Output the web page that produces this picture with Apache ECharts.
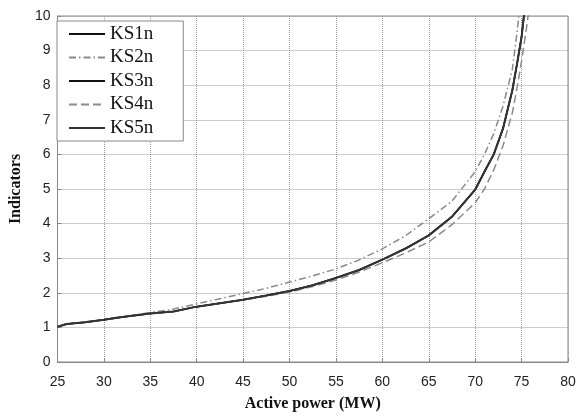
<!DOCTYPE html>
<html>
<head>
<meta charset="utf-8">
<script src="https://cdn.jsdelivr.net/npm/echarts@6/dist/echarts.min.js"></script>
<style>
  html, body { margin: 0; padding: 0; background: #fff; }
  #chart { width: 583px; height: 417px; }
</style>
</head>
<body>
<div id="chart"></div>
<script>
// active power (MW) sample points, shared by all curves
const powerMW = [25, 26, 28, 30, 32, 35, 37.5, 40, 42.5, 45, 47.5, 50, 52.5, 55, 57.5, 60,
  62.5, 65, 67.5, 70, 71, 72, 73, 74, 74.5, 75, 75.5, 76];

// indicator values
const ks1n = [1.02, 1.1, 1.15, 1.22, 1.3, 1.4, 1.46, 1.6, 1.7, 1.8, 1.92, 2.05, 2.22, 2.43, 2.66, 2.96,
  3.28, 3.66, 4.2, 4.98, 5.5, 6.0, 6.75, 7.85, 8.6, 9.4, 10.6, 12];
const ks2n = [1.02, 1.1, 1.16, 1.23, 1.31, 1.43, 1.53, 1.68, 1.83, 1.98, 2.13, 2.31, 2.49, 2.69, 2.95, 3.27,
  3.65, 4.14, 4.65, 5.5, 6.0, 6.6, 7.4, 8.45, 9.5, 10.7, 12, 14];
const ks3n = [1.02, 1.1, 1.15, 1.22, 1.3, 1.4, 1.46, 1.6, 1.7, 1.8, 1.92, 2.05, 2.22, 2.43, 2.66, 2.96,
  3.28, 3.66, 4.2, 4.98, 5.5, 6.0, 6.75, 7.85, 8.6, 9.4, 10.6, 12];
const ks4n = [1.02, 1.1, 1.15, 1.22, 1.3, 1.4, 1.46, 1.6, 1.7, 1.79, 1.9, 2.02, 2.18, 2.37, 2.6, 2.87,
  3.15, 3.47, 3.97, 4.6, 5.0, 5.55, 6.25, 7.2, 7.9, 8.7, 9.6, 10.6];
const ks5n = [1.02, 1.1, 1.15, 1.22, 1.3, 1.4, 1.46, 1.6, 1.7, 1.8, 1.92, 2.05, 2.22, 2.43, 2.66, 2.96,
  3.28, 3.66, 4.2, 4.98, 5.5, 6.0, 6.75, 7.85, 8.6, 9.4, 10.6, 12];

const serif = "'Liberation Serif', 'DejaVu Serif', serif";

function pairs(values) {
  return powerMW.map((x, i) => [x, values[i]]);
}

function makeSeries(name, values, color, width, dash) {
  return {
    name: name,
    type: "line",
    data: pairs(values),
    symbol: "none",
    showSymbol: false,
    clip: true,
    silent: true,
    color: color,
    lineStyle: { color: color, width: width, type: dash },
  };
}

const chart = echarts.init(document.getElementById("chart"));

chart.setOption({
  animation: false,
  backgroundColor: "#fff",
  grid: {
    left: 54,
    right: 15,
    top: 16,
    bottom: 55,
    show: true,
    borderColor: "#888",
    borderWidth: 1,
  },
  legend: {
    orient: "vertical",
    left: 57,
    top: 21,
    backgroundColor: "#fff",
    borderColor: "#888",
    borderWidth: 1,
    borderRadius: 0,
    padding: [3, 30, 3, 11],
    itemGap: 3.5,
    itemWidth: 36,
    itemHeight: 12,
    itemStyle: { opacity: 0 },
    textStyle: { fontFamily: serif, fontSize: 19, color: "#111", lineHeight: 20 },
    data: ["KS1n", "KS2n", "KS3n", "KS4n", "KS5n"],
  },
  xAxis: {
    type: "value",
    min: 25,
    max: 80,
    interval: 5,
    name: "Active power (MW)",
    nameLocation: "middle",
    nameGap: 34,
    nameTextStyle: { fontFamily: serif, fontSize: 16, fontWeight: "bold", color: "#111" },
    axisLine: { show: true, lineStyle: { color: "#888" } },
    axisTick: { show: true, inside: true, length: 4, lineStyle: { color: "#888" } },
    axisLabel: { fontFamily: "'Liberation Sans', sans-serif", fontSize: 14, color: "#222", margin: 13 },
    splitLine: { show: true, lineStyle: { color: "#999", type: "dotted", width: 1 } },
  },
  yAxis: {
    type: "value",
    min: 0,
    max: 10,
    interval: 1,
    name: "Indicators",
    nameLocation: "middle",
    nameGap: 30,
    nameTextStyle: { fontFamily: serif, fontSize: 16, fontWeight: "bold", color: "#111" },
    axisLine: { show: true, lineStyle: { color: "#888" } },
    axisTick: { show: true, inside: true, length: 4, lineStyle: { color: "#888" } },
    axisLabel: { fontFamily: "'Liberation Sans', sans-serif", fontSize: 14, color: "#222", margin: 7 },
    splitLine: { show: true, lineStyle: { color: "#999", type: "dotted", width: 1 } },
  },
  series: [
    makeSeries("KS1n", ks1n, "#111", 1.5, "solid"),
    makeSeries("KS2n", ks2n, "#8a8a8a", 1.5, [7, 3, 1.5, 3]),
    makeSeries("KS3n", ks3n, "#111", 1.5, "solid"),
    makeSeries("KS4n", ks4n, "#8a8a8a", 1.5, [8, 4]),
    makeSeries("KS5n", ks5n, "#333", 2, "solid"),
  ],
});
</script>
</body>
</html>
